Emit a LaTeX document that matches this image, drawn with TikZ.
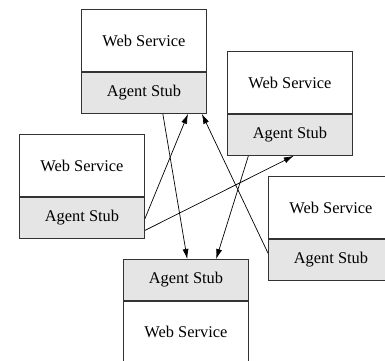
\documentclass[tikz,border=0pt]{standalone}
\usepackage{fontspec}
\setmainfont{Liberation Serif}
\usetikzlibrary{arrows.meta,calc}
\tikzset{
  part/.style={draw=black!80, line width=0.9pt, minimum width=125pt, inner sep=0pt,
    font=\fontsize{16.4}{19}\selectfont, anchor=north west},
  websvc/.style={part, fill=white, minimum height=62pt},
  stub/.style={part, fill=black!10, minimum height=41pt},
  link/.style={line width=0.7pt, -{Latex[length=10pt,width=6pt]}}
}
\begin{document}
\begin{tikzpicture}[x=1pt,y=-1pt]
  \useasboundingbox (0,0) rectangle (385,360);
  \clip (0,0) rectangle (385,360);
  % top service
  \node[websvc] (aW) at (81,9) {Web Service};
  \node[stub] (aS) at (aW.south west) {Agent Stub};
  % upper right service
  \node[websvc] (bW) at (227,51) {Web Service};
  \node[stub] (bS) at (bW.south west) {Agent Stub};
  % left service
  \node[websvc] (cW) at (19,134) {Web Service};
  \node[stub] (cS) at (cW.south west) {Agent Stub};
  % lower right service
  \node[websvc] (eW) at (268,176) {Web Service};
  \node[stub] (eS) at (eW.south west) {Agent Stub};
  % bottom service, stub on top
  \node[stub] (dS) at (123,259) {Agent Stub};
  \node[websvc] (dW) at (dS.south west) {Web Service};
  % message links between stubs
  \draw[link] ($(aS.south west)!0.65!(aS.south east)$) -- ($(dS.north west)!0.51!(dS.north east)$);
  \draw[link] ($(cS.north east)!0.52!(cS.south east)$) -- ($(aS.south west)!0.85!(aS.south east)$);
  \draw[link] ($(eS.north west)!0.34!(eS.south west)$) -- ($(aS.south west)!0.96!(aS.south east)$);
  \draw[link] ($(cS.north east)!0.8!(cS.south east)$) -- ($(bS.south west)!0.53!(bS.south east)$);
  \draw[link] ($(bS.south west)!0.17!(bS.south east)$) -- ($(dS.north west)!0.74!(dS.north east)$);
\end{tikzpicture}
\end{document}
